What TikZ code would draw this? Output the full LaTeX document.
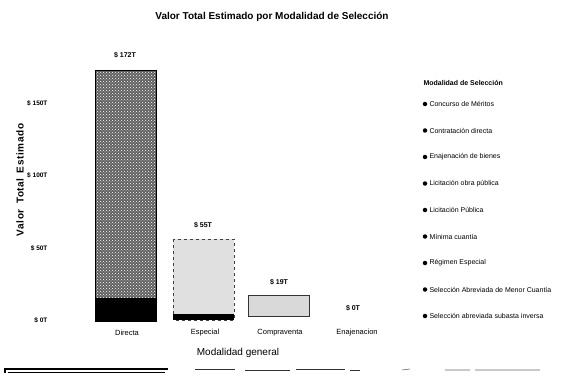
\documentclass[tikz,border=0pt]{standalone}
\usepackage{fontspec}
\setmainfont{Liberation Sans}
\newfontfamily\spacedsans[LetterSpace=6,WordSpace=1.6]{Liberation Sans}
\usetikzlibrary{patterns}
\begin{document}
\begin{tikzpicture}[x=1pt,y=-1pt,
  ttl/.style={font=\fontsize{10}{12}\selectfont\bfseries},
  ytick/.style={anchor=east,font=\fontsize{6.5}{8}\selectfont\bfseries},
  barlbl/.style={font=\fontsize{7}{8}\selectfont\bfseries},
  catlbl/.style={font=\fontsize{7.5}{9}\selectfont},
  legitem/.style={anchor=west,font=\fontsize{7}{8}\selectfont},
  bullet/.style={circle,fill=black,inner sep=0pt,minimum size=4.5pt},
  barbox/.style={draw=black,line width=1pt},
]
\useasboundingbox (0,0) rectangle (581,377);
\fill[white] (0,0) rectangle (581,377);
% title
\node[ttl] (title) at (272,17) {Valor Total Estimado por Modalidad de Selección};
% y axis title
\node[rotate=90,font=\spacedsans\fontsize{10}{12}\selectfont\bfseries] (ytitle) at (20,180) {Valor Total Estimado};
% y ticks
\node[ytick] (t150) at (51,103) {\$ 150T};
\node[ytick] (t100) at (51,175) {\$ 100T};
\node[ytick] (t50)  at (51,248) {\$ 50T};
\node[ytick] (t0)   at (51,320) {\$ 0T};
% bars
\draw[barbox,fill=black!62] (95,71) rectangle (156,321);
\fill[pattern=crosshatch dots,pattern color=white] (96,72) rectangle (155,297);
\fill[black] (95,298) rectangle (156,321);
\draw[barbox,draw=black!75,dashed,fill=black!12] (173,239) rectangle (234,320);
\fill[black] (173,314) rectangle (234,320);
\draw[barbox,draw=black!80,fill=black!15] (248,295) rectangle (309,316);
% bar value labels
\node[barlbl] (v1) at (125,55) {\$ 172T};
\node[barlbl] (v2) at (203,225) {\$ 55T};
\node[barlbl] (v3) at (279,282) {\$ 19T};
\node[barlbl] (v4) at (353,308) {\$ 0T};
% category labels
\node[catlbl] (c1) at (127,333) {Directa};
\node[catlbl] (c2) at (205,333) {Especial};
\node[catlbl] (c3) at (280,333) {Compraventa};
\node[catlbl] (c4) at (357,333) {Enajenacion};
\node[font=\fontsize{10}{12}\selectfont] (xtitle) at (238,353) {Modalidad general};
% legend
\node[anchor=west,font=\fontsize{7}{8}\selectfont\bfseries] (legt) at (420,83) {Modalidad de Selección};
\foreach \t [count=\i from 0] in {Concurso de Méritos,Contratación directa,Enajenación de bienes,Licitación obra pública,Licitación Pública,Mínima cuantía,Régimen Especial,Selección Abreviada de Menor Cuantía,Selección abreviada subasta inversa}{
  \node[bullet] (b\i) at (425,104+26.5*\i) {};
  \node[legitem] (l\i) at (426,104+26.5*\i) {\t};
}
% bottom scroll line
\draw[line width=1.2pt] (5,373) -- (5,369) -- (168,369);
\draw[line width=0.6pt] (8,372) -- (165,372);
\draw[line width=0.8pt,black!80] (195,369) -- (235,369) (245,370) -- (290,370) (296,369) -- (345,369) (350,370) -- (360,370);
\draw[line width=0.6pt,black!60] (402,370) -- (410,369) (445,370) -- (470,370) (475,370) -- (540,370);
\end{tikzpicture}
\end{document}
